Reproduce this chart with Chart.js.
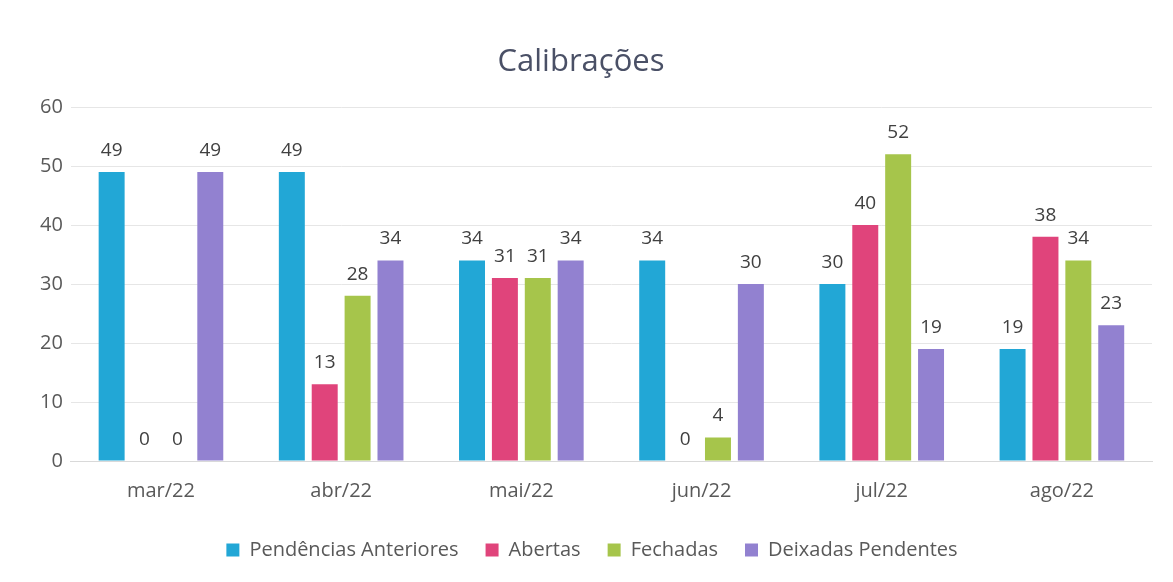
<!DOCTYPE html>
<html>
<head>
<meta charset="utf-8">
<script src="https://cdn.jsdelivr.net/npm/chart.js@4"></script>
<style>
  html, body { margin: 0; padding: 0; background: #ffffff; }
  #wrap { width: 1173px; height: 582px; position: relative; }
</style>
</head>
<body>
<div id="wrap"><canvas id="c" width="1173" height="582"></canvas></div>
<script>
// Meses do período
const categories = ['mar/22', 'abr/22', 'mai/22', 'jun/22', 'jul/22', 'ago/22'];

// Séries de calibrações
const pendenciasAnteriores = [49, 49, 34, 34, 30, 19];
const abertas = [0, 13, 31, 0, 40, 38];
const fechadas = [0, 28, 31, 4, 52, 34];
const deixadasPendentes = [49, 34, 34, 30, 19, 23];

const seriesNames = ['Pendências Anteriores', 'Abertas', 'Fechadas', 'Deixadas Pendentes'];
const seriesColors = ['#22a7d6', '#e0447b', '#a6c54b', '#9281d0'];
const chartTitle = 'Calibrações';

const FONT = "'Open Sans', 'Noto Sans', sans-serif";

// Escreve o valor de cada barra logo acima dela e o título do gráfico
const valueLabels = {
  id: 'valueLabels',
  afterDatasetsDraw(chart) {
    const ctx = chart.ctx;
    ctx.save();
    ctx.font = '19px ' + FONT;
    ctx.fillStyle = '#404040';
    ctx.textAlign = 'center';
    ctx.textBaseline = 'bottom';
    chart.data.datasets.forEach((ds, i) => {
      const meta = chart.getDatasetMeta(i);
      meta.data.forEach((bar, j) => {
        ctx.fillText(String(ds.data[j]), bar.x, bar.y - 12);
      });
    });
    ctx.font = '31px ' + FONT;
    ctx.fillStyle = '#4a5066';
    ctx.textBaseline = 'middle';
    ctx.fillText(chartTitle, 581, 62);
    ctx.restore();
  }
};

new Chart(document.getElementById('c'), {
  type: 'bar',
  data: {
    labels: categories,
    datasets: [pendenciasAnteriores, abertas, fechadas, deixadasPendentes].map((d, i) => ({
      label: seriesNames[i],
      data: d,
      backgroundColor: seriesColors[i],
      borderWidth: 0,
      barPercentage: 0.79,
      categoryPercentage: 0.73
    }))
  },
  options: {
    responsive: false,
    animation: false,
    layout: { padding: { left: 32, right: 21, top: 107, bottom: 12 } },
    plugins: {
      title: { display: false },
      legend: {
        position: 'bottom',
        labels: {
          color: '#595959',
          font: { family: FONT, size: 20 },
          boxWidth: 13,
          boxHeight: 13,
          padding: 27
        }
      },
      tooltip: { enabled: false }
    },
    scales: {
      x: {
        grid: { display: false },
        border: { display: true, color: '#d9d9d9' },
        ticks: { color: '#595959', font: { family: FONT, size: 20 }, padding: 10 }
      },
      y: {
        min: 0,
        max: 60,
        ticks: { stepSize: 10, color: '#595959', font: { family: FONT, size: 20 }, padding: 8 },
        grid: { color: '#e6e6e6', drawTicks: false },
        border: { display: false }
      }
    }
  },
  plugins: [valueLabels]
});
</script>
</body>
</html>
